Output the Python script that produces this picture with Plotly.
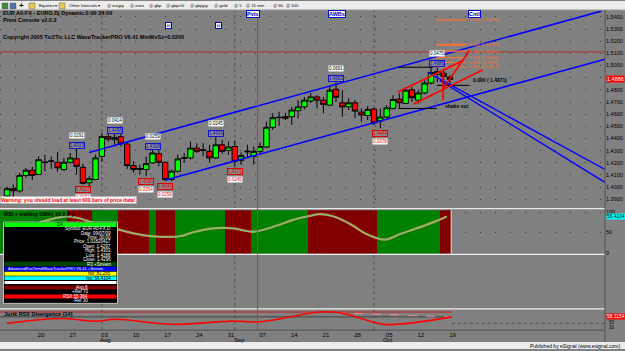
import plotly.graph_objects as go

# ---------------- data ----------------
opens = [1.3927, 1.3987, 1.3968, 1.4096, 1.4139, 1.4104, 1.4207, 1.4212, 1.4204, 1.4145,
         1.4204, 1.4234, 1.4163, 1.4036, 1.4063, 1.4253, 1.4416, 1.4389, 1.4416, 1.4354,
         1.4177, 1.4153, 1.4145, 1.4199, 1.4275, 1.4204, 1.4063, 1.4131, 1.4237, 1.4240,
         1.4321, 1.4308, 1.4294, 1.4240, 1.4348, 1.4302, 1.4334, 1.4220, 1.4297, 1.4253,
         1.4294, 1.4330, 1.4492, 1.4572, 1.4579, 1.4579, 1.4628, 1.4660, 1.4709, 1.4742,
         1.4715, 1.4674, 1.4805, 1.4693, 1.4660, 1.4693, 1.4617, 1.4589, 1.4642, 1.4544,
         1.4576, 1.4647, 1.4723, 1.4688, 1.4801, 1.4715, 1.4774, 1.4856, 1.4927, 1.4937,
         1.4905]
highs = [1.4003, 1.4022, 1.4118, 1.4158, 1.4166, 1.4253, 1.4267, 1.4253, 1.4289, 1.4240,
         1.4281, 1.4313, 1.4193, 1.4090, 1.4267, 1.4444, 1.4438, 1.4438, 1.4438, 1.4375,
         1.4212, 1.4185, 1.4253, 1.4308, 1.4308, 1.4212, 1.4145, 1.4267, 1.4281, 1.4375,
         1.4362, 1.4362, 1.4348, 1.4416, 1.4389, 1.4375, 1.4383, 1.4286, 1.4348, 1.4334,
         1.4367, 1.4538, 1.4607, 1.4620, 1.4612, 1.4660, 1.4715, 1.4742, 1.4774, 1.4756,
         1.4742, 1.4829, 1.4862, 1.4797, 1.4731, 1.4715, 1.4647, 1.4666, 1.4655, 1.4647,
         1.4674, 1.4756, 1.4770, 1.4823, 1.4823, 1.4797, 1.4878, 1.4986, 1.4986, 1.4965,
         1.4919]
lows = [1.3900, 1.3914, 1.3955, 1.4077, 1.4057, 1.4101, 1.4131, 1.4150, 1.4126, 1.4131,
        1.4193, 1.4104, 1.4022, 1.4008, 1.4057, 1.4212, 1.4375, 1.4348, 1.4334, 1.4150,
        1.4118, 1.4104, 1.4090, 1.4193, 1.4171, 1.4049, 1.4049, 1.4122, 1.4199, 1.4226,
        1.4281, 1.4253, 1.4204, 1.4232, 1.4275, 1.4267, 1.4171, 1.4185, 1.4240, 1.4185,
        1.4275, 1.4321, 1.4471, 1.4503, 1.4552, 1.4511, 1.4566, 1.4639, 1.4693, 1.4647,
        1.4607, 1.4666, 1.4701, 1.4579, 1.4634, 1.4566, 1.4538, 1.4552, 1.4511, 1.4484,
        1.4568, 1.4639, 1.4647, 1.4682, 1.4701, 1.4688, 1.4764, 1.4845, 1.4864, 1.4829,
        1.4837]
closes = [1.3987, 1.3971, 1.4096, 1.4139, 1.4096, 1.4226, 1.4202, 1.4215, 1.4158, 1.4204,
          1.4240, 1.4171, 1.4030, 1.4069, 1.4240, 1.4416, 1.4395, 1.4408, 1.4356, 1.4177,
          1.4145, 1.4147, 1.4193, 1.4281, 1.4204, 1.4063, 1.4131, 1.4232, 1.4240, 1.4321,
          1.4294, 1.4302, 1.4240, 1.4348, 1.4294, 1.4330, 1.4212, 1.4259, 1.4291, 1.4294,
          1.4334, 1.4492, 1.4571, 1.4574, 1.4566, 1.4634, 1.4660, 1.4715, 1.4742, 1.4715,
          1.4680, 1.4797, 1.4739, 1.4660, 1.4693, 1.4625, 1.4593, 1.4639, 1.4528, 1.4576,
          1.4652, 1.4721, 1.4693, 1.4797, 1.4735, 1.4774, 1.4856, 1.4943, 1.4951, 1.4911,
          1.4886]
bars = list(range(len(opens)))

week_tick_bars = [5, 10, 15, 20, 25, 30, 35, 40, 45, 50, 55, 60, 65, 70]
week_tick_text = ["20", "27", "03", "10", "17", "24", "31", "07", "14", "21", "28", "05", "12", "19"]
month_bars = [15, 36, 58]
month_label_bars = [15.6, 36.8, 60.2]
month_names = ["Aug", "Sep", "Oct"]
event_bar = 39.6

pivot_price = 1.5112
upper_chan_x = [13.0, 94.0]
upper_chan_y = [1.4285, 1.5449]
lower_chan_x = [25.1, 94.5]
lower_chan_y = [1.4059, 1.5052]
down1_x = [66.5, 94.5]
down1_y = [1.4943, 1.4145]
down2_x = [68.4, 94.5]
down2_y = [1.4878, 1.4039]
fork_x = [[61.8, 72.1], [64.2, 75.2], [68.9, 73.1], [68.9, 68.9]]
fork_y = [[1.4783, 1.5041], [1.4682, 1.4965], [1.4810, 1.5123], [1.4946, 1.4715]]
box_x = [[61.9, 67.3], [61.9, 67.9], [67.9, 73.1]]
box_y = [1.4986, 1.4647, 1.4837]
fib_x = [67.9, 72.6]
fib_price = [1.5375, 1.5171, 1.5118, 1.5065, 1.5025, 1.4988]
fib_text = ["1.618 (1.53640)", "1.000 (1.51787)", "0.786 (1.50940)", "0.618 (1.50340)",
            "0.500 ( 1.4990)", "0.382 (1.49510)"]
zero_text = "0.000 ( 1.4871)"

swing_high_bars = [11, 17, 23, 33, 52, 68]
swing_high_size = ["0.0291", "0.0414", "0.0259", "0.0245", "0.0691", "0.0475"]
swing_low_bars = [12, 22, 25, 36, 59]
swing_low_size = ["0.0291", "0.0354", "0.0259", "0.0245", "0.0378"]

rsi_bars = [5.2, 9.4, 11.5, 14.2, 16.3, 20.0, 23.1, 27.3, 29.4, 32.6, 35.8, 38.9, 42.6,
            45.2, 47.9, 49.4, 52.1, 54.7, 56.8, 59.7, 62.1, 65.2, 67.3, 69.5]
rsi_vals = [74.9, 89.5, 84.6, 70.7, 62.7, 48.0, 40.7, 40.7, 50.5, 60.2, 60.2, 52.0, 66.6,
            81.2, 91.0, 95.1, 87.1, 66.6, 46.3, 32.4, 46.3, 62.7, 74.9, 89.5]
band_edges = [-1.1, 9.5, 13.5, 17.5, 22.5, 23.5, 26.5, 34.5, 38.5, 47.5, 58.5, 68.5, 70.2]
band_state = ["up", "dn", "up", "dn", "up", "dn", "up", "dn", "up", "dn", "up", "dn"]

div_bars = [0.0, 8.4, 14.1, 17.2, 26.1, 35.5, 40.0, 49.4, 52.6, 59.6, 63.3, 70.3]
div_vals = [31.8, 54.5, 42.3, 51.4, 27.3, 42.3, 39.5, 85.0, 81.8, 27.3, 31.8, 62.3]
div_line_x = [52.0, 70.3]
div_line_y = [81.8, 62.3]

# ---------------- helpers (pixel chrome) ----------------
W, H = 625, 351
def PX(x):
    return x / W
def PY(y):
    return 1 - y / H

FONT = "Liberation Sans, Arial, sans-serif"
fig = go.Figure()

# RSI background bands
band_mid = [(band_edges[i] + band_edges[i + 1]) / 2 for i in range(len(band_state))]
band_w = [band_edges[i + 1] - band_edges[i] for i in range(len(band_state))]
band_col = ["#008000" if s == "up" else "#800000" for s in band_state]
fig.add_trace(go.Bar(x=band_mid, y=[107.3] * len(band_mid), base=-2.44, width=band_w,
                     marker=dict(color=band_col, line=dict(width=0)), yaxis="y2",
                     hoverinfo="skip"))

# candles
fig.add_trace(go.Candlestick(x=bars, open=opens, high=highs, low=lows, close=closes,
                             increasing=dict(fillcolor="#00ff00", line=dict(color="black", width=1)),
                             decreasing=dict(fillcolor="#ff0000", line=dict(color="black", width=1)),
                             whiskerwidth=0, yaxis="y"))

def seg(x, y, color, width, yaxis="y", dash=None):
    fig.add_trace(go.Scatter(x=x, y=y, mode="lines", yaxis=yaxis,
                             line=dict(color=color, width=width, dash=dash), hoverinfo="skip"))

seg([-1.1, 94.5], [pivot_price, pivot_price], "#b03030", 1)
seg(upper_chan_x, upper_chan_y, "#0000ff", 1.6)
seg(lower_chan_x, lower_chan_y, "#0000ff", 1.6)
seg(down1_x, down1_y, "#0000ff", 1.4)
seg(down2_x, down2_y, "#0000ff", 1.4)
for bx, by in zip(box_x, box_y):
    seg(bx, [by, by], "#000000", 1)
for i, fp in enumerate(fib_price):
    seg(fib_x, [fp, fp], "#ff7030", 2 if i == 1 else 1.2)
for fx, fy in zip(fork_x, fork_y):
    seg(fx, fy, "#ff0000", 1.6)

# RSI line (RSI + trailing SMA)
fig.add_trace(go.Scatter(x=rsi_bars, y=rsi_vals, mode="lines", yaxis="y2",
                         line=dict(color="#d89a30", width=2.2, shape="spline"), hoverinfo="skip"))
fig.add_trace(go.Scatter(x=rsi_bars, y=rsi_vals, mode="lines", yaxis="y2",
                         line=dict(color="#40c8d0", width=0.8, shape="spline"), hoverinfo="skip"))

# divergence panel
seg([-1.1, 70.3], [85, 85], "#c02020", 1, yaxis="y3")
seg([-1.1, 70.3], [62.3, 62.3], "#404040", 1, yaxis="y3")
seg([70.3, 94.5], [31.8, 31.8], "#505050", 1, yaxis="y3", dash="dot")
seg(div_line_x, div_line_y, "#e09090", 1, yaxis="y3", dash="dash")
fig.add_trace(go.Scatter(x=div_bars, y=div_vals, mode="lines", yaxis="y3",
                         line=dict(color="#ff0000", width=1.6, shape="spline"), hoverinfo="skip"))

shapes = []
ann = []

# chrome: toolbar and status bar
shapes.append(dict(type="rect", xref="paper", yref="paper", x0=0, x1=1, y0=PY(9), y1=1,
                   fillcolor="#ececec", line=dict(width=0), layer="above"))
shapes.append(dict(type="line", xref="paper", yref="paper", x0=0, x1=1, y0=PY(9), y1=PY(9),
                   line=dict(color="#a0a0a0", width=1), layer="above"))
shapes.append(dict(type="rect", xref="paper", yref="paper", x0=0, x1=1, y0=0, y1=PY(344),
                   fillcolor="#ececec", line=dict(width=0), layer="above"))
for x0, x1, c in [(2, 8, "#3c8c3c"), (10, 16, "#4f6fa8"), (29, 35, "#e8c850"), (59, 65, "#e8c850")]:
    shapes.append(dict(type="rect", xref="paper", yref="paper", x0=PX(x0), x1=PX(x1),
                       y0=PY(8), y1=PY(2), fillcolor=c, line=dict(color="#606060", width=0.5), layer="above"))
ann.append(dict(x=PX(21), y=PY(5), xref="paper", yref="paper", text="<b>+</b>", showarrow=False,
                font=dict(size=8, color="black", family=FONT), xanchor="center", yanchor="middle"))
toolbar = [(37, "Equities ▾"), (67, "Other Intervals ▾"), (105, "Ⓢ eurjpy"), (128, "Ⓢ euro"),
           (147, "Ⓢ gbp"), (164, "Ⓢ gbpchf"), (188, "Ⓢ gbpjpy"), (212, "Ⓢ gold"),
           (232, "Ⓢ 5"), (244, "Ⓢ 15 min"), (271, "Ⓢ 60"), (284, "Ⓢ 100")]
for x, t in toolbar:
    ann.append(dict(x=PX(x), y=PY(5), xref="paper", yref="paper", text=t, showarrow=False,
                    font=dict(size=4.3, color="black", family=FONT), xanchor="left", yanchor="middle"))
ann.append(dict(x=PX(622), y=PY(347.5), xref="paper", yref="paper",
                text="Published by eSignal (www.esignal.com)", showarrow=False,
                font=dict(size=5, color="black", family=FONT), xanchor="right", yanchor="middle"))

# separators
for y, c in [(209.5, "#e8e8e8"), (255.5, "#f0f0f0"), (310.5, "#f0f0f0"), (332, "#505050")]:
    shapes.append(dict(type="line", xref="paper", yref="paper", x0=0, x1=PX(605), y0=PY(y), y1=PY(y),
                       line=dict(color=c, width=1.3 if c != "#505050" else 1), layer="above"))
shapes.append(dict(type="line", xref="paper", yref="paper", x0=PX(605), x1=PX(605), y0=PY(344), y1=PY(9),
                   line=dict(color="#555555", width=1), layer="above"))
shapes.append(dict(type="line", xref="x", yref="y2 domain", x0=band_edges[-1], x1=band_edges[-1], y0=0, y1=1,
                   line=dict(color="#e0e0e0", width=1), layer="above"))

# month separators and event line
for mb in month_bars:
    shapes.append(dict(type="line", xref="x", yref="paper", x0=mb, x1=mb, y0=PY(332), y1=PY(10),
                       line=dict(color="#505050", width=1, dash="dot"), layer="below"))
shapes.append(dict(type="line", xref="x", yref="paper", x0=event_bar, x1=event_bar, y0=PY(332), y1=PY(10),
                   line=dict(color="#ff2020", width=1), layer="above"))

# month labels
for mb, mn in zip(month_label_bars, month_names):
    ann.append(dict(x=mb, y=PY(341.5), xref="x", yref="paper", text=mn, showarrow=False,
                    font=dict(size=6, color="black", family=FONT), xanchor="center", yanchor="middle"))

# top-left header text
for y, t in [(12.5, "EUR A0-FX - EURO.Dj Dynamic.0:00 24:00"), (19, "Pivot Console v2.0.2"),
             (36.5, "Copyright 2005 Tic2Tic LLC WaveTrackerPRO V6.41 MinWvSz=0.0200")]:
    ann.append(dict(x=PX(1), y=PY(y), xref="paper", yref="paper", text="<b>" + t + "</b>", showarrow=False,
                    font=dict(size=5.5, color="black", family=FONT), xanchor="left", yanchor="middle"))
# top tag boxes
for x, t in [(253, "Pvts"), (337, "AWBs"), (474, "Cntl")]:
    ann.append(dict(x=PX(x), y=PY(12.8), xref="paper", yref="paper", text="<b>" + t + "</b>", showarrow=False,
                    font=dict(size=5.5, color="#0000c0", family=FONT), bgcolor="white",
                    bordercolor="#0000c0", borderwidth=1, borderpad=0, xanchor="center", yanchor="middle"))
for x in [168.5, 218.5]:
    ann.append(dict(x=PX(x), y=PY(24.3), xref="paper", yref="paper", text="<b>##</b>", showarrow=False,
                    font=dict(size=3.5, color="#0000c0", family=FONT), bgcolor="white",
                    bordercolor="#0000c0", borderwidth=1, borderpad=0.5, xanchor="center", yanchor="middle"))

# swing labels
for b, s in zip(swing_high_bars, swing_high_size):
    ann.append(dict(x=b, y=highs[b], xref="x", yref="y", text=f"{highs[b]:.4f}", showarrow=False,
                    font=dict(size=4.5, color="#1010d0", family=FONT), bordercolor="#1010d0", borderwidth=1,
                    borderpad=0, bgcolor="#8a8a8a", xanchor="center", yanchor="bottom", yshift=0))
    ann.append(dict(x=b, y=highs[b], xref="x", yref="y", text=s, showarrow=False,
                    font=dict(size=4.5, color="black", family=FONT), bgcolor="white", borderpad=0,
                    xanchor="center", yanchor="bottom", yshift=10))
for b, s in zip(swing_low_bars, swing_low_size):
    ann.append(dict(x=b, y=lows[b], xref="x", yref="y", text=f"{lows[b]:.4f}", showarrow=False,
                    font=dict(size=4.5, color="#e00000", family=FONT), bordercolor="#e00000", borderwidth=1,
                    borderpad=0, bgcolor="#8a8a8a", xanchor="center", yanchor="top", yshift=-2))
    ann.append(dict(x=b, y=lows[b], xref="x", yref="y", text=s, showarrow=False,
                    font=dict(size=4.5, color="#e00000", family=FONT), bgcolor="white", borderpad=0,
                    xanchor="center", yanchor="top", yshift=-9.5))

# warning text (drawn over the lowest label, as in the source)
ann.append(dict(x=PX(0), y=PY(200.5), xref="paper", yref="paper",
                text="<b>Warning: you should load at least 600 bars of price data!</b>", showarrow=False,
                font=dict(size=5, color="#ff0000", family=FONT), bgcolor="#f4f4f4", borderpad=0,
                xanchor="left", yanchor="middle"))

# fib labels
for fp, ft in zip(fib_price, fib_text):
    ann.append(dict(x=fib_x[1], y=fp, xref="x", yref="y", text=ft, showarrow=False,
                    font=dict(size=4.2, color="#ff7030", family=FONT), xanchor="left", yanchor="middle", xshift=1))
ann.append(dict(x=box_x[2][1], y=box_y[2], xref="x", yref="y", text="<b>" + zero_text + "</b>", showarrow=False,
                font=dict(size=5, color="black", family=FONT), xanchor="left", yanchor="bottom", xshift=1))
ann.append(dict(x=fork_x[3][0], y=fork_y[3][1], xref="x", yref="y", text="<b>shake out</b>", showarrow=False,
                font=dict(size=5, color="black", family=FONT), xanchor="left", yanchor="top", yshift=-1))

# right-side value boxes
ann.append(dict(x=PX(606), y=closes[-1], xref="paper", yref="y", text=f"{closes[-1]:.4f}", showarrow=False,
                font=dict(size=5.5, color="white", family=FONT), bgcolor="#ff0000", borderpad=0,
                xanchor="left", yanchor="middle"))
ann.append(dict(x=PX(606), y=rsi_vals[-1], xref="paper", yref="y2", text="56.4104", showarrow=False,
                font=dict(size=4.8, color="black", family=FONT), bgcolor="#00ffff", borderpad=0,
                xanchor="left", yanchor="middle"))
ann.append(dict(x=PX(606), y=PY(318), xref="paper", yref="paper", text="58.3154", showarrow=False,
                font=dict(size=4.8, color="white", family=FONT), bgcolor="#ff0000", borderpad=0,
                xanchor="left", yanchor="middle"))
for y, t in [(324, "50"), (329, "30")]:
    ann.append(dict(x=PX(607), y=PY(y), xref="paper", yref="paper", text=t, showarrow=False,
                    font=dict(size=4.5, color="black", family=FONT), xanchor="left", yanchor="middle"))

# panel titles
ann.append(dict(x=PX(2), y=PY(214.5), xref="paper", yref="paper", text="<b>RSI + trailing SMA( 10,2,2 )</b>",
                showarrow=False, font=dict(size=5.5, color="black", family=FONT), xanchor="left", yanchor="middle"))
ann.append(dict(x=PX(2), y=PY(315.5), xref="paper", yref="paper", text="<b>Jurik RSX Divergence (14)</b>",
                showarrow=False, font=dict(size=5.5, color="black", family=FONT), xanchor="left", yanchor="middle"))

# info box (cursor window)
def prect(x0, y0, x1, y1, fill, line=None):
    shapes.append(dict(type="rect", xref="paper", yref="paper", x0=PX(x0), x1=PX(x1), y0=PY(y1), y1=PY(y0),
                       fillcolor=fill, line=dict(color=line or fill, width=1 if line else 0), layer="above"))
prect(3.5, 223, 117.5, 305, "#000000", "#c0c0c0")
rows = [(223.5, 228, "#00ff00"), (263, 267.5, "#004400"), (268, 272.5, "#0000ff"), (273, 277, "#ffff00"),
        (277.5, 281.5, "#00ffff"), (282.5, 285.5, "#ffffff"), (287, 291, "#800000"), (296, 300, "#ff0000")]
for y0, y1, c in rows:
    prect(4.5, y0, 116.5, y1, c)
def itxt(x, y, t, color="white", anchor="right", size=4.5):
    ann.append(dict(x=PX(x), y=PY(y), xref="paper", yref="paper", text=t, showarrow=False,
                    font=dict(size=size, color=color, family=FONT), xanchor=anchor, yanchor="middle"))
itxt(60, 225.8, "D4", "black", "center")
info_lines = ["Symbol: EUR A0-FX,D", "Date: 09/07/09", "Time: 00:00", "Price: 1.01820417", "Open: 1.4297",
              "High: 1.4303", "Low: 1.4288", "Close: 1.4296"]
for i, t in enumerate(info_lines):
    itxt(113, 229.8 + 4.4 * i, t)
itxt(113, 265.3, "R3 +Stream")
itxt(6, 270.3, "AdvancedRsxTrendWaveTrackerPRO V6.41 +Stream", "white", "left", 4)
itxt(113, 275, "rsx: 81.2x5", "black")
itxt(113, 279.5, "rsx: 56.4104", "black")
itxt(90, 289, "Avg 8")
itxt(90, 293.5, "+Ref 70")
itxt(90, 298, "RSX 55.384")
itxt(90, 302.5, "-Ref 30")

fig.update_layout(
    width=W, height=H, margin=dict(l=0, r=0, t=0, b=0),
    paper_bgcolor="#808080", plot_bgcolor="#808080", showlegend=False,
    barmode="overlay", bargap=0, boxgap=0.15, boxgroupgap=0,
    font=dict(family=FONT, size=6, color="black"),
    shapes=shapes, annotations=ann,
    xaxis=dict(domain=[0, PX(605)], range=[-1.1, 94.5], anchor="y3",
               tickvals=[b + 0.4 for b in week_tick_bars], ticktext=week_tick_text,
               showgrid=False, zeroline=False, ticks="", showline=False,
               tickfont=dict(size=6, color="black", family=FONT), rangeslider=dict(visible=False)),
    yaxis=dict(domain=[PY(207), PY(10)], range=[1.3843, 1.5449], side="right", anchor="x",
               tick0=1.39, dtick=0.01, tickformat=".4f", showgrid=True, gridcolor="#3e3e3e",
               griddash="1px,14px", gridwidth=1, zeroline=False, ticks="",
               tickfont=dict(size=5.5, color="black", family=FONT)),
    yaxis2=dict(domain=[PY(255), PY(211)], range=[-2.44, 104.9], side="right", anchor="x",
                tickvals=[0, 50, 100], ticktext=["0", "50", "100"], showgrid=True, gridcolor="#3e3e3e",
                griddash="1px,14px", zeroline=False, ticks="",
                tickfont=dict(size=5.5, color="black", family=FONT)),
    yaxis3=dict(domain=[PY(332), PY(310.5)], range=[0, 100], anchor="x", showticklabels=False,
                showgrid=False, zeroline=False),
)

fig.write_html("out.html")
